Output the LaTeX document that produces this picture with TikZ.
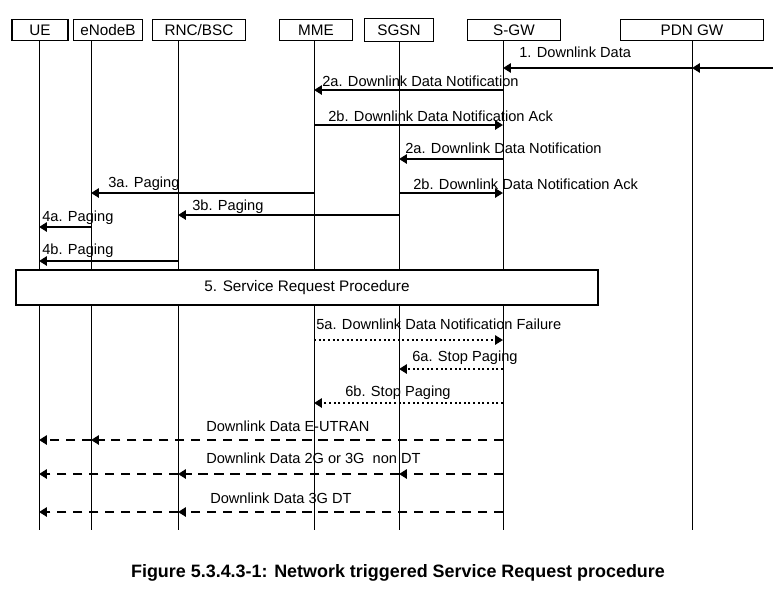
\documentclass[tikz,border=0pt]{standalone}
\usepackage{fontspec}
\setmainfont{Liberation Sans}
\usetikzlibrary{arrows.meta, positioning}
\tikzset{%
	entity/.style={draw, thick, rectangle, minimum height=5.6mm, inner sep=1pt, font=\fontsize{11.5}{13}\selectfont},
	life/.style={thin},
	msg/.style={-{Triangle[length=6pt,width=7pt]}, line width=1.5pt},
	note/.style={dotted, line width=1.5pt, -{Triangle[length=6pt,width=7pt]}},
	data/.style={dashed, dash pattern=on 7pt off 5pt, line width=1.5pt, -{Triangle[length=6pt,width=7pt]}},
	lbl/.style={font=\fontsize{11}{13}\selectfont, inner sep=0pt, anchor=base west}
}
\begin{document}
\begin{tikzpicture}[x=0.02646cm, y=-0.02646cm]
	\useasboundingbox (0,0) rectangle (773,594);
	% entities
	\node[entity, minimum width=56*0.02646cm] (ue) at (40,30) {UE};
	\node[entity, minimum width=69*0.02646cm] (enb) at (108,30) {eNodeB};
	\node[entity, minimum width=93*0.02646cm] (rnc) at (199,30) {RNC/BSC};
	\node[entity, minimum width=73*0.02646cm] (mme) at (316,30) {MME};
	\node[entity, minimum width=69*0.02646cm, minimum height=6.1mm] (sgsn) at (399,30) {SGSN};
	\node[entity, minimum width=93*0.02646cm] (sgw) at (514,30) {S-GW};
	\node[entity, minimum width=143*0.02646cm] (pgw) at (692,30) {PDN GW};
	% lifelines
	\foreach \n/\x in {ue/39, enb/91, rnc/178, mme/314, sgsn/399, sgw/503, pgw/692} {
		\coordinate (\n-top) at (\x,41);
		\coordinate (\n-bot) at (\x,530);
		\draw[life] (\n-top) -- (\n-bot);
	}
	\coordinate (ext) at (773,68);
	% messages
	\draw[msg] (ext) -- (pgw-top |- 0,68);
	\draw[msg] (pgw-top |- 0,68) -- (sgw-top |- 0,68);
	\node[lbl] (l1) at (519,57) {1. Downlink Data};
	\draw[msg] (sgw-top |- 0,90) -- (mme-top |- 0,90);
	\node[lbl] (l2a) at (322,86) {2a. Downlink Data Notification};
	\draw[msg] (mme-top |- 0,125) -- (sgw-top |- 0,125);
	\node[lbl] (l2b) at (328,121) {2b. Downlink Data Notification Ack};
	\draw[msg] (sgw-top |- 0,159) -- (sgsn-top |- 0,159);
	\node[lbl] (l2c) at (405,153) {2a. Downlink Data Notification};
	\draw[msg] (sgsn-top |- 0,193) -- (sgw-top |- 0,193);
	\node[lbl] (l2d) at (413,189) {2b. Downlink Data Notification Ack};
	\draw[msg] (mme-top |- 0,193) -- (enb-top |- 0,193);
	\node[lbl] (l3a) at (108,187) {3a. Paging};
	\draw[msg] (sgsn-top |- 0,215) -- (rnc-top |- 0,215);
	\node[lbl] (l3b) at (192,210) {3b. Paging};
	\draw[msg] (enb-top |- 0,227) -- (ue-top |- 0,227);
	\node[lbl] (l4a) at (42,221) {4a. Paging};
	\draw[msg] (rnc-top |- 0,261) -- (ue-top |- 0,261);
	\node[lbl] (l4b) at (42,254) {4b. Paging};
	% service request
	\node[draw, thick, fill=white, minimum width=582*0.02646cm, minimum height=35*0.02646cm,
		font=\fontsize{11.5}{13}\selectfont] (srp) at (307,287.5) {5. Service Request Procedure};
	\draw[note] (mme-top |- 0,340) -- (sgw-top |- 0,340);
	\node[lbl] (l5a) at (316,329) {5a. Downlink Data Notification Failure};
	\draw[note] (sgw-top |- 0,369) -- (sgsn-top |- 0,369);
	\node[lbl] (l6a) at (412,361) {6a. Stop Paging};
	\draw[note] (sgw-top |- 0,403) -- (mme-top |- 0,403);
	\node[lbl] (l6b) at (345,396) {6b. Stop Paging};
	% user plane
	\draw[data] (sgw-top |- 0,440) -- (enb-top |- 0,440);
	\draw[data] (enb-top |- 0,440) -- (ue-top |- 0,440);
	\node[lbl] (le) at (206,431) {Downlink Data E-UTRAN};
	\draw[data] (sgw-top |- 0,474) -- (sgsn-top |- 0,474);
	\draw[data] (sgsn-top |- 0,474) -- (rnc-top |- 0,474);
	\draw[data] (rnc-top |- 0,474) -- (ue-top |- 0,474);
	\node[lbl] (lg) at (206,463) {Downlink Data 2G or 3G \ non DT};
	\draw[data] (sgw-top |- 0,512) -- (rnc-top |- 0,512);
	\draw[data] (rnc-top |- 0,512) -- (ue-top |- 0,512);
	\node[lbl] (ld) at (210,503) {Downlink Data 3G DT};
	% caption
	\node[font=\bfseries\fontsize{13.5}{15}\selectfont] (cap) at (398,573) {Figure 5.3.4.3-1: Network triggered Service Request procedure};
\end{tikzpicture}
\end{document}
